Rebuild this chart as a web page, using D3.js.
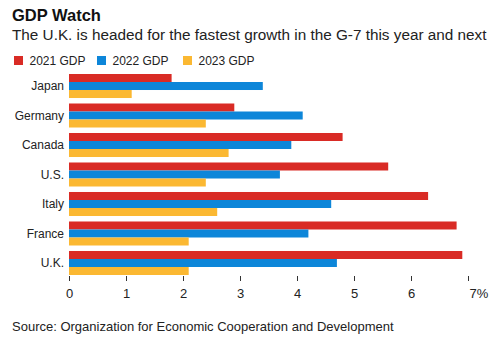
<!DOCTYPE html>
<html>
<head>
<meta charset="utf-8">
<script src="https://cdn.jsdelivr.net/npm/d3@7"></script>
<style>
  body { margin: 0; background: #fff; }
  svg { display: block; font-family: "Liberation Sans", Arial, sans-serif; }
</style>
</head>
<body>
<svg id="chart" width="502" height="341"></svg>
<script>
// --- DATA ---
const countries = ["Japan", "Germany", "Canada", "U.S.", "Italy", "France", "U.K."];
const seriesNames = ["2021 GDP", "2022 GDP", "2023 GDP"];
const gdp2021 = [1.8, 2.9, 4.8, 5.6, 6.3, 6.8, 6.9];
const gdp2022 = [3.4, 4.1, 3.9, 3.7, 4.6, 4.2, 4.7];
const gdp2023 = [1.1, 2.4, 2.8, 2.4, 2.6, 2.1, 2.1];
const xTicks = [0, 1, 2, 3, 4, 5, 6, 7];

const COLORS = ["#d92b25", "#0d86d9", "#fbb832"];

const rows = countries.map((c, i) => ({
    country: c,
    values: [gdp2021[i], gdp2022[i], gdp2023[i]]
}));

const svg = d3.select("#chart");
const marginLeft = 69, marginRight = 34, plotTop = 74, plotBottom = 275;

const x = d3.scaleLinear().domain([0, 7]).range([marginLeft, 502 - marginRight]);
const y = d3.scaleBand().domain(countries).range([plotTop, plotBottom]).paddingInner(0.186).paddingOuter(0);
const ySub = d3.scaleBand().domain(d3.range(seriesNames.length)).range([0, y.bandwidth()]);

// Title + subtitle
svg.append("text").attr("x", 12).attr("y", 21)
    .attr("font-size", 16.5).attr("font-weight", "bold").attr("fill", "#111")
    .text("GDP Watch");
svg.append("text").attr("x", 12).attr("y", 39.5)
    .attr("font-size", 15.3).attr("fill", "#222")
    .text("The U.K. is headed for the fastest growth in the G-7 this year and next");

// Legend
const legendX = [14, 97, 183];
const legend = svg.append("g").selectAll("g")
    .data(seriesNames)
    .join("g")
    .attr("transform", (d, i) => `translate(${legendX[i]},56)`);
legend.append("rect").attr("width", 9).attr("height", 9).attr("fill", (d, i) => COLORS[i]);
legend.append("text").attr("x", 15.5).attr("y", 8.5)
    .attr("font-size", 12).attr("fill", "#222").text(d => d);

// Bars
const groups = svg.append("g").selectAll("g")
    .data(rows)
    .join("g")
    .attr("transform", d => `translate(0,${y(d.country)})`);

groups.selectAll("rect")
    .data(d => d.values)
    .join("rect")
    .attr("x", x(0))
    .attr("y", (d, i) => ySub(i))
    .attr("width", d => x(d) - x(0))
    .attr("height", ySub.bandwidth())
    .attr("fill", (d, i) => COLORS[i]);

// Country labels
groups.append("text")
    .attr("x", marginLeft - 5)
    .attr("y", y.bandwidth() / 2)
    .attr("dy", "0.35em")
    .attr("text-anchor", "end")
    .attr("font-size", 12)
    .attr("fill", "#222")
    .text(d => d.country);

// X axis
const axis = svg.append("g")
    .attr("transform", `translate(0,${plotBottom + 1})`)
    .call(d3.axisBottom(x).tickValues(xTicks).tickSize(5).tickPadding(8)
        .tickFormat(d => d === 7 ? "7%" : d))
    .call(g => g.select(".domain").remove());
axis.selectAll(".tick line").attr("stroke", "#333");
axis.selectAll(".tick text")
    .attr("font-size", 13).attr("fill", "#222")
    .attr("font-family", "Liberation Sans, Arial, sans-serif")
    .filter(d => d === 7).attr("text-anchor", "start").attr("x", 1);

// Source
svg.append("text").attr("x", 12).attr("y", 330.5)
    .attr("font-size", 13).attr("fill", "#222")
    .text("Source: Organization for Economic Cooperation and Development");
</script>
</body>
</html>
